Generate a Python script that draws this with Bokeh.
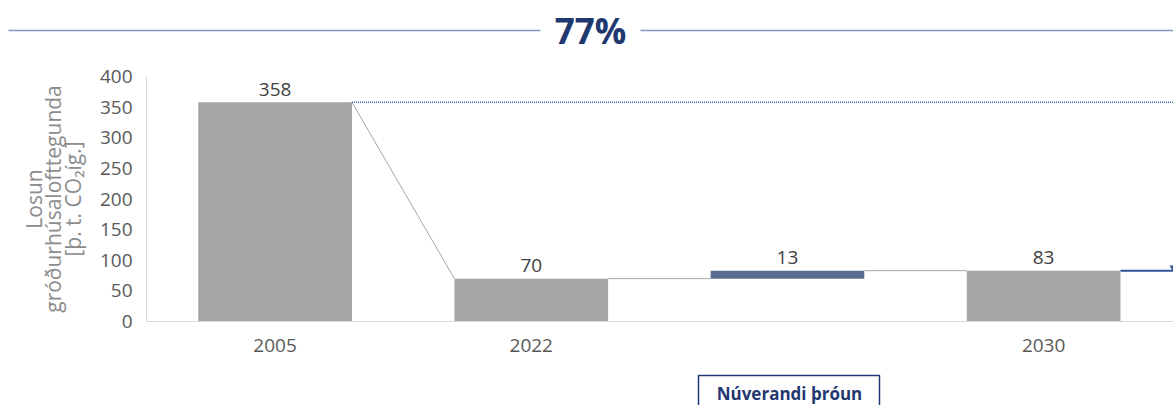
from bokeh.plotting import figure
from bokeh.models import Range1d, FixedTicker, ColumnDataSource
from bokeh.layouts import column
from bokeh.embed import file_html
from bokeh.resources import INLINE
from bokeh.core.properties import value

# ---- data ----
categories = ["2005", "2022", "", "2030"]
x_pos = [0, 1, 2, 3]
values = [358, 70, 13, 83]
bottoms = [0, 0, 70, 0]
tops = [358, 70, 83, 83]
bar_colors = ["#a6a6a6", "#a6a6a6", "#5b6b92", "#a6a6a6"]
y_ticks = [0, 50, 100, 150, 200, 250, 300, 350, 400]
headline = "77%"
scenario = "Núverandi þróun"
y_title = "Losun\ngróðurhúsalofttegunda\n[þ. t. CO₂íg.]"

FONT = "Open Sans"
W = 1173


def blank(fig):
    fig.frame_align = False
    fig.axis.visible = False
    fig.grid.visible = False
    fig.outline_line_color = None


# ---- title strip ----
TH = 64
t = figure(width=W, height=TH, x_range=Range1d(0, W), y_range=Range1d(0, TH),
           output_backend="svg", toolbar_location=None,
           min_border=0, min_border_left=0, min_border_right=0,
           min_border_top=0, min_border_bottom=0)
blank(t)
t.segment(x0=[8, 640], y0=[TH - 30, TH - 30], x1=[540, W], y1=[TH - 30, TH - 30],
          line_color="#8397bf", line_width=1.5)
t.text(x=[590], y=[TH - 30], text=[headline], text_font=value(FONT),
       text_font_style="bold", text_font_size="35px", text_color="#1f3870",
       text_align="center", text_baseline="middle")

# ---- main chart ----
p = figure(width=W, height=304, x_range=Range1d(-0.502, 3.507), y_range=Range1d(0, 400),
           output_backend="svg", toolbar_location=None,
           min_border_left=146, min_border_right=0, min_border_top=12, min_border_bottom=47)
p.frame_align = False
p.outline_line_color = None
p.grid.visible = False

src = ColumnDataSource(dict(x=x_pos, bottom=bottoms, top=tops, color=bar_colors,
                            label=[str(v) for v in values]))
p.vbar(x="x", bottom="bottom", top="top", width=0.6, fill_color="color",
       line_color=None, source=src)

# connectors
p.segment(x0=[0.3, 1.3, 2.3], y0=[tops[0], tops[1], tops[2]],
          x1=[0.7, 1.7, 2.7], y1=[tops[1], tops[1], tops[3]],
          line_color="#a6a6a6", line_width=1)
# reference level of 2005
p.segment(x0=[0.3], y0=[tops[0]], x1=[3.6], y1=[tops[0]],
          line_color="#3a64a8", line_width=1.5, line_dash="1 1")
# continuation after 2030
p.segment(x0=[3.3], y0=[tops[3]], x1=[3.7], y1=[tops[3]],
          line_color="#2f5597", line_width=2)
p.scatter(x=[3.505], y=[tops[3] + 5], marker="inverted_triangle", size=7,
          fill_color="#2f5597", line_color=None)

# value labels
p.text(x="x", y="top", text="label", source=src, text_font=value(FONT),
       text_font_size="19px", text_color="#404040", text_align="center",
       text_baseline="middle", y_offset=-13)

# axes
p.yaxis.ticker = FixedTicker(ticks=y_ticks)
p.yaxis.major_tick_line_color = None
p.yaxis.minor_tick_line_color = None
p.yaxis.axis_line_color = "#d9d9d9"
p.yaxis.major_label_text_font = FONT
p.yaxis.major_label_text_font_size = "19px"
p.yaxis.major_label_text_color = "#595959"
p.yaxis.major_label_standoff = 8
p.yaxis.axis_label = y_title
p.yaxis.axis_label_text_font = FONT
p.yaxis.axis_label_text_font_size = "21px"
p.yaxis.axis_label_text_font_style = "normal"
p.yaxis.axis_label_text_color = "#8c8c8c"
p.yaxis.axis_label_text_line_height = 0.7
p.yaxis.axis_label_standoff = 10

p.xaxis.ticker = FixedTicker(ticks=[x for x, c in zip(x_pos, categories) if c])
p.xaxis.major_label_overrides = {x: c for x, c in zip(x_pos, categories) if c}
p.xaxis.major_tick_line_color = None
p.xaxis.minor_tick_line_color = None
p.xaxis.axis_line_color = "#d9d9d9"
p.xaxis.major_label_text_font = FONT
p.xaxis.major_label_text_font_size = "19px"
p.xaxis.major_label_text_color = "#595959"
p.xaxis.major_label_standoff = 11

# ---- scenario box strip ----
BH = 37
b = figure(width=W, height=BH, x_range=Range1d(0, W), y_range=Range1d(0, BH),
           output_backend="svg", toolbar_location=None,
           min_border=0, min_border_left=0, min_border_right=0,
           min_border_top=0, min_border_bottom=0)
blank(b)
b.quad(left=[698], right=[879], top=[BH - 7], bottom=[-10],
       fill_color="white", line_color="#1f3870", line_width=1.5)
b.text(x=[789], y=[12], text=[scenario], text_font=value(FONT),
       text_font_style="bold", text_font_size="17px", text_color="#1f3870",
       text_align="center", text_baseline="middle")

layout = column(t, p, b, spacing=0)
open("out.html", "w").write(file_html(layout, INLINE))
